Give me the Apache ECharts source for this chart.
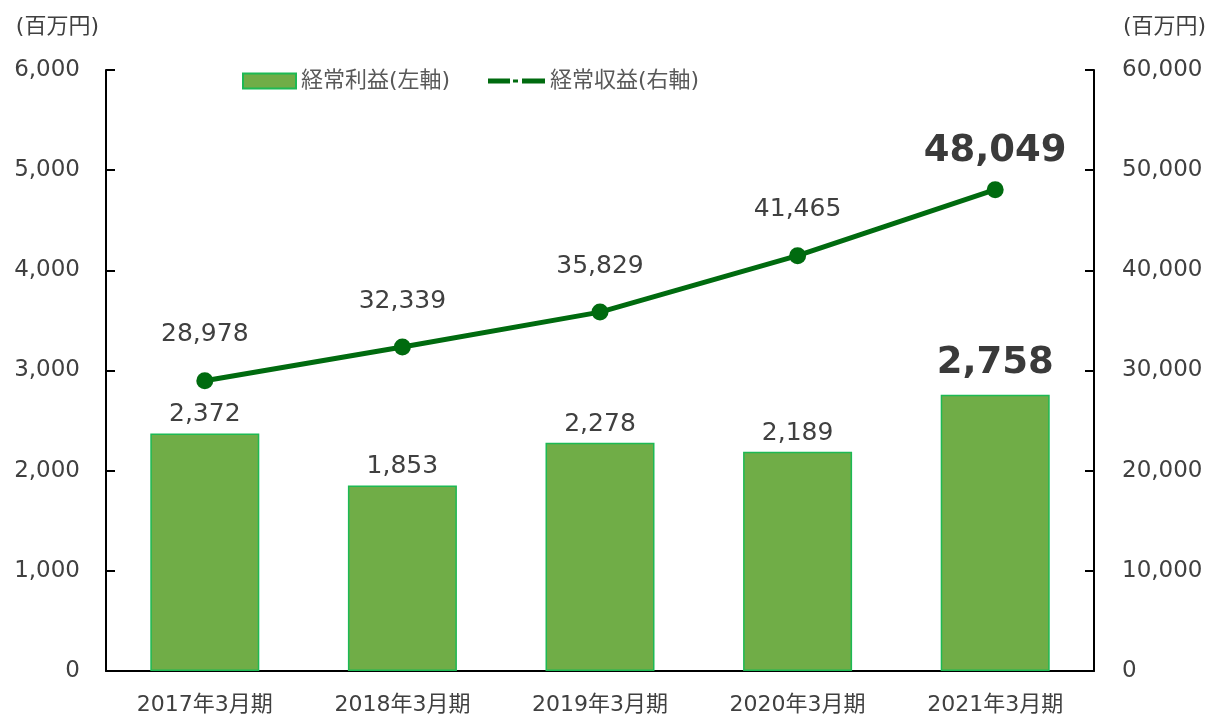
<!DOCTYPE html>
<html>
<head>
<meta charset="utf-8">
<style>
  html, body { margin: 0; padding: 0; background: #fff; }
  #main { width: 1213px; height: 717px; }
</style>
<script src="https://cdn.jsdelivr.net/npm/echarts@6/dist/echarts.min.js"></script>
</head>
<body>
<div id="main"></div>
<script>
var categories = ['2017年3月期', '2018年3月期', '2019年3月期', '2020年3月期', '2021年3月期'];
var profit = [2372, 1853, 2278, 2189, 2758];      // 経常利益(左軸)
var revenue = [28978, 32339, 35829, 41465, 48049]; // 経常収益(右軸)

var dom = document.getElementById('main');
var myChart = echarts.init(dom, null, { renderer: 'canvas' });

var font = '"DejaVu Sans", "Noto Sans CJK JP", sans-serif';
var textColor = '#404040';

function fmt(v) {
    return v.toLocaleString('en-US');
}

var last = categories.length - 1;

// the latest year is highlighted with big bold labels
var barData = profit.map(function (v, i) {
    var item = { value: v };
    if (i === last) {
        item.label = { fontSize: 37, fontWeight: 'bold', distance: 13, color: '#3a3a3a' };
    }
    return item;
});

var lineData = revenue.map(function (v, i) {
    var item = { value: v };
    if (i === last) {
        item.label = { fontSize: 37, fontWeight: 'bold', distance: 11, color: '#3a3a3a' };
    }
    return item;
});

var option = {
    animation: false,
    textStyle: { fontFamily: font },
    legend: [
        {
            left: 237,
            top: 65,
            itemWidth: 53,
            itemHeight: 15,
            textStyle: { fontSize: 22, color: '#595959', fontFamily: font },
            data: [{ name: '経常利益(左軸)', icon: 'rect' }]
        },
        {
            left: 483,
            top: 65,
            itemWidth: 57,
            itemHeight: 5,
            textStyle: { fontSize: 22, color: '#595959', fontFamily: font },
            data: [{
                name: '経常収益(右軸)',
                icon: 'path://M0,0h22v5h-22z M25,1h5v3h-5z M34,0h23v5h-23z'
            }]
        }
    ],
    grid: {
        left: 106,
        right: 119,
        top: 70,
        bottom: 46
    },
    xAxis: {
        type: 'category',
        data: categories,
        axisLine: { lineStyle: { color: '#000', width: 2 } },
        axisTick: { show: false },
        axisLabel: { fontSize: 22, color: textColor, margin: 23 }
    },
    yAxis: [
        {
            type: 'value',
            min: 0,
            max: 6000,
            interval: 1000,
            name: '(百万円)',
            nameLocation: 'end',
            nameGap: 32,
            nameTextStyle: { fontSize: 22, color: textColor, align: 'right', padding: [0, 7, 0, 0] },
            axisLine: { show: true, lineStyle: { color: '#000', width: 2 } },
            axisTick: { show: true, inside: true, length: 9, lineStyle: { color: '#000', width: 2 } },
            splitLine: { show: false },
            axisLabel: {
                fontSize: 23,
                color: textColor,
                margin: 26,
                formatter: function (v) { return fmt(v); }
            }
        },
        {
            type: 'value',
            min: 0,
            max: 60000,
            interval: 10000,
            name: '(百万円)',
            nameLocation: 'end',
            nameGap: 32,
            nameTextStyle: { fontSize: 22, color: textColor, align: 'left', padding: [0, 0, 0, 29] },
            axisLine: { show: true, lineStyle: { color: '#000', width: 2 } },
            axisTick: { show: true, inside: true, length: 9, lineStyle: { color: '#000', width: 2 } },
            splitLine: { show: false },
            axisLabel: {
                fontSize: 23,
                color: textColor,
                margin: 28,
                formatter: function (v) { return fmt(v); }
            }
        }
    ],
    series: [
        {
            name: '経常利益(左軸)',
            type: 'bar',
            yAxisIndex: 0,
            barWidth: 109,
            itemStyle: {
                color: '#70AD47',
                borderColor: '#1DB954',
                borderWidth: 1.5
            },
            label: {
                show: true,
                position: 'top',
                distance: 6,
                fontSize: 25,
                color: textColor,
                formatter: function (p) { return fmt(p.value); }
            },
            data: barData
        },
        {
            name: '経常収益(右軸)',
            type: 'line',
            yAxisIndex: 1,
            symbol: 'circle',
            symbolSize: 17,
            itemStyle: { color: '#006B0F' },
            lineStyle: { color: '#006B0F', width: 5 },
            label: {
                show: true,
                position: 'top',
                distance: 25,
                fontSize: 25,
                color: textColor,
                formatter: function (p) { return fmt(p.value); }
            },
            data: lineData
        }
    ]
};

myChart.setOption(option);
window.addEventListener('resize', myChart.resize);
</script>
</body>
</html>
